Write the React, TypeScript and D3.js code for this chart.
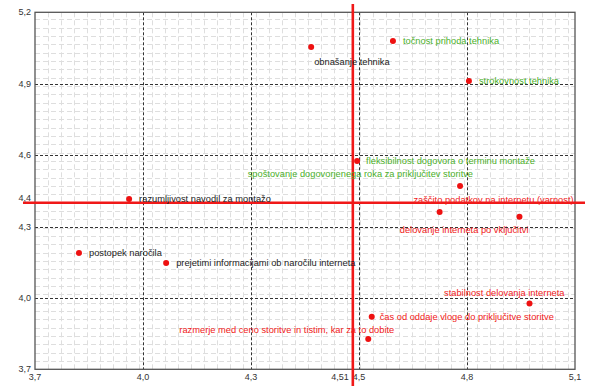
import React, { useEffect, useRef } from "react";
import * as d3 from "d3";

// attribute names
const items = [
  "obnašanje tehnika",
  "točnost prihoda tehnika",
  "strokovnost tehnika",
  "fleksibilnost dogovora o terminu montaže",
  "spoštovanje dogovorjenega roka za priključitev storitve",
  "razumljivost navodil za montažo",
  "postopek naročila",
  "prejetimi informacijami ob naročilu interneta",
  "zaščito podatkov na internetu (varnost)",
  "delovanje interneta po vključitvi",
  "stabilnost delovanja interneta",
  "čas od oddaje vloge do priključitve storitve",
  "razmerje med ceno storitve in tistim, kar za to dobite",
];
// x = satisfaction, y = importance
const xValues = [4.416, 4.628, 4.825, 4.535, 4.802, 3.944, 3.814, 4.04, 4.749, 4.956, 4.982, 4.573, 4.564];
const yValues = [5.054, 5.079, 4.911, 4.575, 4.47, 4.416, 4.189, 4.147, 4.361, 4.341, 3.976, 3.921, 3.827];

const xDomain = [3.7, 5.1];
const yDomain = [3.7, 5.2];
const xTicks = [3.7, 3.98, 4.26, 4.54, 4.82, 5.1];
const yTicks = [3.7, 4.0, 4.3, 4.6, 4.9, 5.2];
const xMean = 4.524;
const xMeanLabel = "4,51";
const yMean = 4.4;
const yMeanLabel = "4,4";

// label placement relative to the dot: [dx, dy, anchor]
const labelPos: [number, number, string][] = [
  [3, 15, "start"],
  [10, 0, "start"],
  [10, 0, "start"],
  [9, 0, "start"],
  [13, -12, "end"],
  [10, 0, "start"],
  [10, 0, "start"],
  [10, 0, "start"],
  [134, -12, "end"],
  [9, 13, "end"],
  [35, -11, "end"],
  [8, 0, "start"],
  [26, -9, "end"],
];

const W = 600;
const H = 390;
const left = 35, right = 575, top = 12.3, bottom = 369.3;
const font = "'Liberation Sans', Arial, sans-serif";
const red = "#f01818";

const fmt = (v: number) => d3.format(".1f")(v).replace(".", ",");

const App = () => {
  const ref = useRef<SVGSVGElement>(null);

  useEffect(() => {
    const svg = d3.select(ref.current);
    svg.selectAll("*").remove();

    const x = d3.scaleLinear().domain(xDomain).range([left, right]);
    const y = d3.scaleLinear().domain(yDomain).range([bottom, top]);

    // minor grid
    const minor = svg.append("g").attr("stroke", "#dedede").attr("stroke-width", 1).attr("stroke-dasharray", "5,3");
    minor
      .selectAll("line.vx")
      .data(d3.range(xDomain[0] + 0.0337, xDomain[1] - 0.01, 0.0337))
      .join("line")
      .attr("x1", (d) => Math.round(x(d)) + 0.5)
      .attr("x2", (d) => Math.round(x(d)) + 0.5)
      .attr("y1", top)
      .attr("y2", bottom);
    minor
      .selectAll("line.hy")
      .data(d3.range(yDomain[0] + 0.035, yDomain[1] - 0.01, 0.035))
      .join("line")
      .attr("y1", (d) => Math.round(y(d)) + 0.5)
      .attr("y2", (d) => Math.round(y(d)) + 0.5)
      .attr("x1", left)
      .attr("x2", right);

    // major grid
    const major = svg.append("g").attr("stroke", "#333").attr("stroke-width", 1).attr("stroke-dasharray", "3,2");
    major
      .selectAll("line.mx")
      .data(xTicks.slice(1, -1))
      .join("line")
      .attr("x1", (d) => Math.round(x(d)) + 0.5)
      .attr("x2", (d) => Math.round(x(d)) + 0.5)
      .attr("y1", top)
      .attr("y2", bottom);
    major
      .selectAll("line.my")
      .data(yTicks.slice(1, -1))
      .join("line")
      .attr("y1", (d) => Math.round(y(d)) + 0.5)
      .attr("y2", (d) => Math.round(y(d)) + 0.5)
      .attr("x1", left)
      .attr("x2", right);

    // frame
    svg
      .append("rect")
      .attr("x", left)
      .attr("y", top)
      .attr("width", right - left)
      .attr("height", bottom - top)
      .attr("fill", "none")
      .attr("stroke", "#555")
      .attr("stroke-width", 1.3);

    // tick labels
    svg
      .append("g")
      .selectAll("text")
      .data(xTicks)
      .join("text")
      .attr("x", (d) => x(d))
      .attr("y", bottom + 11)
      .attr("text-anchor", "middle")
      .attr("font-family", font)
      .attr("font-size", 9)
      .attr("fill", "#333")
      .text(fmt);
    svg
      .append("g")
      .selectAll("text")
      .data(yTicks)
      .join("text")
      .attr("x", left - 4)
      .attr("y", (d) => y(d) + 3)
      .attr("text-anchor", "end")
      .attr("font-family", font)
      .attr("font-size", 9)
      .attr("fill", "#333")
      .text(fmt);

    // mean lines
    svg
      .append("line")
      .attr("x1", 23)
      .attr("x2", 585)
      .attr("y1", y(yMean))
      .attr("y2", y(yMean))
      .attr("stroke", red)
      .attr("stroke-width", 2.6);
    svg
      .append("line")
      .attr("x1", x(xMean))
      .attr("x2", x(xMean))
      .attr("y1", 4)
      .attr("y2", 386)
      .attr("stroke", red)
      .attr("stroke-width", 2.6);
    svg
      .append("text")
      .attr("x", x(xMean) - 4)
      .attr("y", bottom + 11)
      .attr("text-anchor", "end")
      .attr("font-family", font)
      .attr("font-size", 9)
      .attr("fill", "#333")
      .text(xMeanLabel);
    svg
      .append("text")
      .attr("x", left - 4)
      .attr("y", y(yMean) - 2)
      .attr("text-anchor", "end")
      .attr("font-family", font)
      .attr("font-size", 9)
      .attr("fill", "#333")
      .text(yMeanLabel);

    const pts = items.map((name, i) => ({ name, xv: xValues[i], yv: yValues[i], i }));
    const colorOf = (p: { xv: number; yv: number }) =>
      p.xv < xMean ? "#222" : p.yv > yMean ? "#4caf2a" : "#f02020";

    svg
      .append("g")
      .selectAll("circle")
      .data(pts)
      .join("circle")
      .attr("cx", (p) => x(p.xv))
      .attr("cy", (p) => y(p.yv))
      .attr("r", 3)
      .attr("fill", "#ee1111");

    svg
      .append("g")
      .selectAll("text")
      .data(pts)
      .join("text")
      .attr("x", (p) => x(p.xv) + labelPos[p.i][0])
      .attr("y", (p) => y(p.yv) + labelPos[p.i][1] + 3)
      .attr("text-anchor", (p) => labelPos[p.i][2])
      .attr("font-family", font)
      .attr("font-size", 9.3)
      .attr("fill", colorOf)
      .text((p) => p.name);
  }, []);

  return (
    <svg
      ref={ref}
      width={W}
      height={H}
      style={{ position: "absolute", left: 0, top: 0, background: "#fff" }}
    />
  );
};

export default App;
